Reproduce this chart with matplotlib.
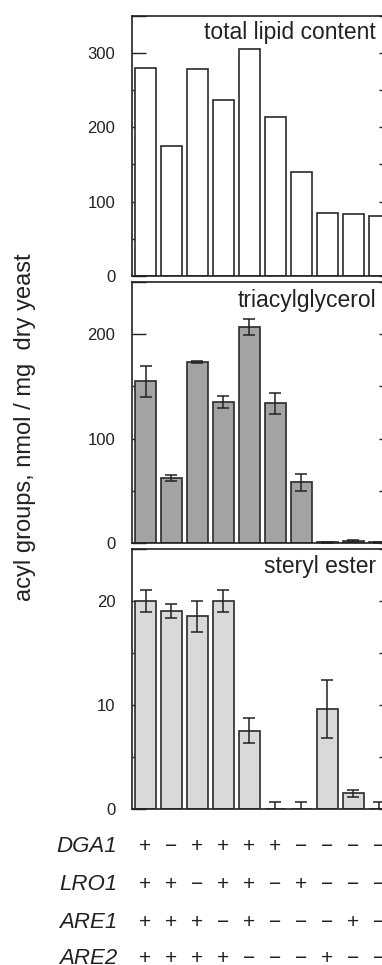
import matplotlib
matplotlib.use("Agg")
import matplotlib.pyplot as plt
from matplotlib.ticker import MultipleLocator
import matplotlib.transforms as mtransforms
import numpy as np

plt.rcParams['font.family'] = ['Liberation Sans', 'DejaVu Sans']

# ---- data ----
strains = list(range(10))
total_lipid = [280, 174, 278, 237, 305, 213, 140, 85, 83, 81]
tag = [155, 62, 173, 135, 207, 134, 58, 0.8, 2, 0.5]
tag_err = [15, 3, 1, 6, 8, 10, 8, 0.5, 1, 0.3]
se = [20.0, 19.0, 18.5, 20.0, 7.5, 0, 0, 9.6, 1.5, 0]
se_err = [1.05, 0.7, 1.5, 1.05, 1.2, 0.7, 0.7, 2.75, 0.35, 0.7]

genes = ["DGA1", "LRO1", "ARE1", "ARE2"]
DGA1 = ["+", "−", "+", "+", "+", "+", "−", "−", "−", "−"]
LRO1 = ["+", "+", "−", "+", "+", "−", "+", "−", "−", "−"]
ARE1 = ["+", "+", "+", "−", "+", "−", "−", "−", "+", "−"]
ARE2 = ["+", "+", "+", "+", "−", "−", "−", "+", "−", "−"]
gene_signs = [DGA1, LRO1, ARE1, ARE2]

panel_titles = ["total lipid content", "triacylglycerol", "steryl ester"]
ylims = [350, 250, 25]
majors = [100, 100, 10]
minors = [50, 50, 5]
colors = ["white", "#a3a3a3", "#d9d9d9"]
ylabel = "acyl groups, nmol / mg  dry yeast"

W, H = 382, 965
fig = plt.figure(figsize=(W / 100, H / 100), dpi=100)

left = 132 / W
width = (393 - 132) / W
panels_px = [(15.5, 276), (282, 543), (548.5, 809)]
title_y = [32, 300, 566]

values = [total_lipid, tag, se]
errs = [None, tag_err, se_err]
axes = []
for i, (top, bot) in enumerate(panels_px):
    ax = fig.add_axes([left, 1 - bot / H, width, (bot - top) / H])
    ax.bar(strains, values[i], width=0.82, color=colors[i], edgecolor="#2a2a2a",
           linewidth=1.2, zorder=2)
    if errs[i] is not None:
        ax.errorbar(strains, values[i], yerr=errs[i], fmt="none", ecolor="#222222",
                    elinewidth=1.1, capsize=4, capthick=1.1, zorder=3)
    ax.set_xlim(-0.52, 9.53)
    ax.set_ylim(0, ylims[i])
    ax.yaxis.set_major_locator(MultipleLocator(majors[i]))
    ax.yaxis.set_minor_locator(MultipleLocator(minors[i]))
    ax.tick_params(axis="y", which="both", direction="in", length=10, width=1.0,
                   right=True, left=True, labelsize=12, pad=12, colors="#222222")
    ax.tick_params(axis="x", which="both", bottom=False, labelbottom=False)
    for s in ax.spines.values():
        s.set_linewidth(1.2)
        s.set_color("#222222")
    fig.text(376 / W, 1 - title_y[i] / H, panel_titles[i], ha="right", va="center",
             fontsize=16.5, color="#222222")
    axes.append(ax)

fig.text(25 / W, 1 - 427 / H, ylabel, rotation=90, ha="center", va="center",
         fontsize=17, color="#222222")

ax3 = axes[-1]
trans = mtransforms.blended_transform_factory(ax3.transData, fig.transFigure)
row_y = [847, 885, 922, 958]
for g, signs, yy in zip(genes, gene_signs, row_y):
    fig.text(117 / W, 1 - yy / H, g, ha="right", va="center", fontsize=16,
             style="italic", color="#222222")
    for x, s in zip(strains, signs):
        ax3.text(x, 1 - yy / H, s, transform=trans, ha="center", va="center",
                 fontsize=15, color="#222222", clip_on=False)

fig.savefig("out.png", dpi=100)
